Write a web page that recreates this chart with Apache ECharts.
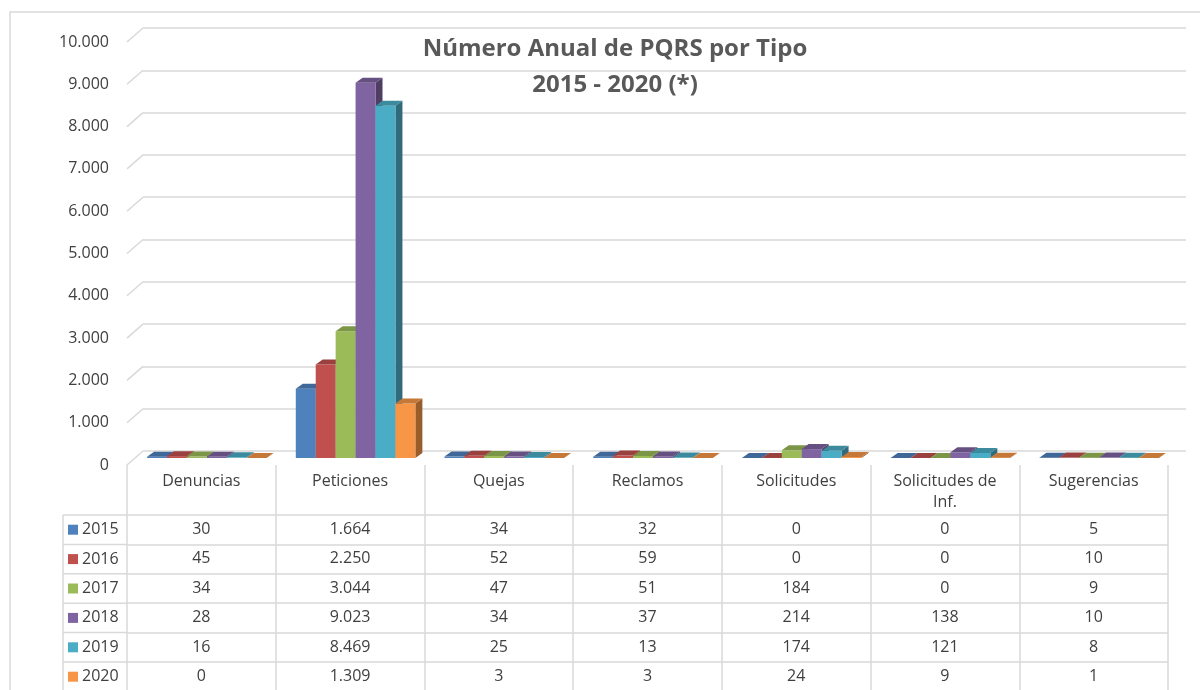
<!DOCTYPE html>
<html>
<head>
<meta charset="utf-8">
<script src="https://cdn.jsdelivr.net/npm/echarts@6/dist/echarts.min.js"></script>
<style>
  html, body { margin: 0; padding: 0; background: #ffffff; }
  #chart { width: 1200px; height: 690px; }
</style>
</head>
<body>
<div id="chart"></div>
<script>
// ---------- data ----------
var categories = ['Denuncias', 'Peticiones', 'Quejas', 'Reclamos', 'Solicitudes', 'Solicitudes de\nInf.', 'Sugerencias'];
var years = ['2015', '2016', '2017', '2018', '2019', '2020'];
var v2015 = [30, 1664, 34, 32, 0, 0, 5];
var v2016 = [45, 2250, 52, 59, 0, 0, 10];
var v2017 = [34, 3044, 47, 51, 184, 0, 9];
var v2018 = [28, 9023, 34, 37, 214, 138, 10];
var v2019 = [16, 8469, 25, 13, 174, 121, 8];
var v2020 = [0, 1309, 3, 3, 24, 9, 1];
var yTicks = [0, 1000, 2000, 3000, 4000, 5000, 6000, 7000, 8000, 9000, 10000];
var titleText = 'Número Anual de PQRS por Tipo\n2015 - 2020 (*)';

var seriesValues = [v2015, v2016, v2017, v2018, v2019, v2020];
var colors = ['#4F81BD', '#C0504D', '#9BBB59', '#8064A2', '#4BACC6', '#F79646'];

// ---------- layout ----------
var FONT = 'Open Sans';
var TXT = '#404040';
var LINE = '#d9d9d9';
var plotLeft = 127, plotWidth = 1041;
var frontTop = 42, frontHeight = 423;   // label (front) plane
var headerH = 50, rowH = 29.4;
var depthX = 7, depthY = -5;            // bar depth
var wallDX = 16, wallDY = -14;          // back wall offset
var FS = 16;

function fmt(n) {
  return String(n).replace(/\B(?=(\d{3})+(?!\d))/g, '.');
}
function shade(hex, f) {
  var n = parseInt(hex.slice(1), 16);
  var r = Math.round(((n >> 16) & 255) * f), g = Math.round(((n >> 8) & 255) * f), b = Math.round((n & 255) * f);
  return 'rgb(' + r + ',' + g + ',' + b + ')';
}

var chart = echarts.init(document.getElementById('chart'), null, { renderer: 'canvas' });

// axes
var xAxes = [
  { // 0: header / categories (front)
    type: 'category', gridIndex: 0, data: categories, position: 'bottom',
    axisLine: { show: false },
    axisTick: { show: true, length: headerH, lineStyle: { color: LINE, width: 1.5 } },
    axisLabel: { interval: 0, margin: 6, fontSize: FS, lineHeight: 21, color: TXT, fontFamily: FONT, align: 'center' },
    splitLine: { show: false }
  },
  { // 1: back wall
    type: 'category', gridIndex: 1, data: categories, show: false
  },
  { // 2: bars
    type: 'category', gridIndex: 2, data: categories, show: false
  }
];
years.forEach(function (y, r) {
  xAxes.push({
    type: 'category', gridIndex: 0, data: categories, position: 'bottom',
    offset: headerH + r * rowH,
    axisLine: { show: true, lineStyle: { color: LINE, width: 1.5 } },
    axisTick: { show: true, length: rowH, lineStyle: { color: LINE, width: 1.5 } },
    axisLabel: {
      interval: 0, margin: 6, fontSize: FS, lineHeight: 17, color: TXT, fontFamily: FONT,
      formatter: function (val, idx) { return fmt(seriesValues[r][idx]); }
    }
  });
});

var yAxes = [
  { // 0 front labels
    type: 'value', gridIndex: 0, min: yTicks[0], max: yTicks[yTicks.length - 1], interval: yTicks[1] - yTicks[0],
    axisLine: { show: false }, axisTick: { show: false }, splitLine: { show: false },
    axisLabel: { margin: 18, fontSize: FS, color: TXT, fontFamily: FONT, formatter: function (v) { return fmt(v); } }
  },
  { // 1 back wall gridlines
    type: 'value', gridIndex: 1, min: yTicks[0], max: yTicks[yTicks.length - 1], interval: yTicks[1] - yTicks[0],
    axisLine: { show: false }, axisTick: { show: false }, axisLabel: { show: false },
    splitLine: { show: true, lineStyle: { color: LINE, width: 1.5 } }
  },
  { // 2 bars
    type: 'value', gridIndex: 2, min: yTicks[0], max: yTicks[yTicks.length - 1], show: false,
    splitLine: { show: false }
  }
];

function makeBarRender(i) {
  return function (params, api) {
    var cat = api.value(0), val = api.value(1);
    var base = api.coord([cat, 0]);
    var top = api.coord([cat, val]);
    var bw = api.size([1, 0])[0];
    var w = bw * 0.134;
    var x0 = base[0] - bw * 0.365 + i * w;
    var yb = base[1], yt = top[1];
    var c = colors[i];
    var cTop = shade(c, 0.8);
    var cSide = shade(c, 0.62);
    return {
      type: 'group',
      children: [
        { type: 'polygon', shape: { points: [[x0 + w, yt], [x0 + w + depthX, yt + depthY], [x0 + w + depthX, yb + depthY], [x0 + w, yb]] }, style: { fill: cSide } },
        { type: 'rect', shape: { x: x0, y: yt, width: w, height: yb - yt }, style: { fill: c } },
        { type: 'polygon', shape: { points: [[x0, yt], [x0 + w, yt], [x0 + w + depthX, yt + depthY], [x0 + depthX, yt + depthY]] }, style: { fill: cTop } }
      ]
    };
  };
}

var series = [];
years.forEach(function (y, i) {
  series.push({
    name: y, type: 'custom', xAxisIndex: 2, yAxisIndex: 2,
    itemStyle: { color: colors[i] },
    renderItem: makeBarRender(i),
    data: categories.map(function (c, j) { return [j, seriesValues[i][j]]; }),
    z: 5
  });
});
// diagonal wall connectors
series.push({
  name: 'wall', type: 'custom', xAxisIndex: 0, yAxisIndex: 0, silent: true, z: 1,
  renderItem: function (params, api) {
    var p = api.coord([0, api.value(1)]);
    var left = p[0] - api.size([1, 0])[0] / 2;
    return { type: 'line', shape: { x1: left, y1: p[1], x2: left + wallDX, y2: p[1] + wallDY }, style: { stroke: LINE, lineWidth: 1.5 } };
  },
  data: yTicks.map(function (v) { return [0, v]; })
});

// legend column lines
var tableTop = frontTop + frontHeight + headerH;
var legLeft = 63;
var graphics = [
  { type: 'rect', shape: { x: 10, y: 12, width: 1200, height: 700 }, style: { fill: 'none', stroke: LINE, lineWidth: 1.5 }, silent: true },
  { type: 'line', shape: { x1: legLeft, y1: tableTop, x2: legLeft, y2: 700 }, style: { stroke: LINE, lineWidth: 1.5 }, silent: true }
];
for (var r = 0; r <= years.length; r++) {
  graphics.push({ type: 'line', shape: { x1: legLeft, y1: tableTop + r * rowH, x2: plotLeft, y2: tableTop + r * rowH }, style: { stroke: LINE, lineWidth: 1.5 }, silent: true });
}

var legends = years.map(function (y, r) {
  return {
    data: [y], orient: 'horizontal', left: 68, top: tableTop + r * rowH + (rowH - 17) / 2,
    padding: 0, icon: 'rect', itemWidth: 10, itemHeight: 10, itemGap: 0,
    textStyle: { fontFamily: FONT, fontSize: FS, lineHeight: 17, color: TXT, padding: [0, 0, 0, -1] },
    selectedMode: false
  };
});

chart.setOption({
  animation: false,
  backgroundColor: '#ffffff',
  title: {
    text: titleText, left: 610, top: 26, textAlign: 'center',
    textStyle: { fontFamily: FONT, fontSize: 24, fontWeight: 'bold', color: '#595959', lineHeight: 36 }
  },
  legend: legends,
  grid: [
    { left: plotLeft, width: plotWidth, top: frontTop, height: frontHeight },
    { left: plotLeft + wallDX, width: plotWidth + 2, top: frontTop + wallDY, height: frontHeight },
    { left: plotLeft, width: plotWidth, top: frontTop, height: 416 }
  ],
  xAxis: xAxes,
  yAxis: yAxes,
  series: series,
  graphic: graphics
});
</script>
</body>
</html>
